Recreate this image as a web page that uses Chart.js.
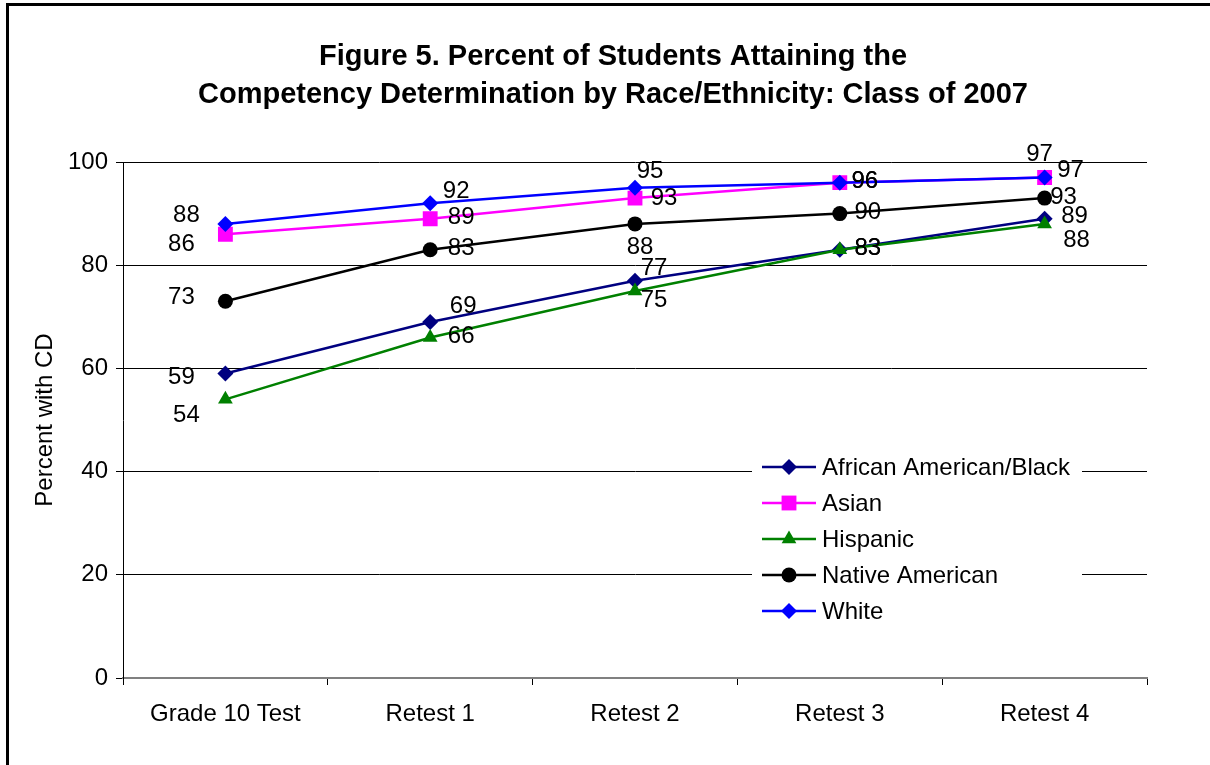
<!DOCTYPE html>
<html>
<head>
<meta charset="utf-8">
<script src="https://cdn.jsdelivr.net/npm/chart.js@4/dist/chart.umd.min.js"></script>
<style>
  html, body { margin: 0; padding: 0; background: #fff; }
  #wrap { position: relative; width: 1210px; height: 765px; }
  #frame { position: absolute; left: 6px; top: 3px; width: 1220px; height: 800px;
           border-left: 3px solid #000; border-top: 3px solid #000; pointer-events: none; }
</style>
</head>
<body>
<div id="wrap">
  <canvas id="cdChart" width="1210" height="765"></canvas>
  <div id="frame"></div>
</div>
<script>
// categories and series values (percent with CD)
const categories = ['Grade 10 Test', 'Retest 1', 'Retest 2', 'Retest 3', 'Retest 4'];
const africanAmerican = [59, 69, 77, 83, 89];
const asian = [86, 89, 93, 96, 97];
const hispanic = [54, 66, 75, 83, 88];
const nativeAmerican = [73, 83, 88, 90, 93];
const white = [88, 92, 95, 96, 97];
const yTicks = [0, 20, 40, 60, 80, 100];
const titleLines = ['Figure 5. Percent of Students Attaining the',
                    'Competency Determination by Race/Ethnicity: Class of 2007'];

// where each value label sits relative to its point (dx, dy)
const labelOffsets = [
    [[-44, 4], [33, -16], [19, -12], [28, -1], [30, -2]],
    [[-44, 10], [31, -1], [29, 0], [25, -1], [-5, -23]],
    [[-39, 16], [31, -1], [19, 9], [28, -1], [32, 16]],
    [[-44, -4], [31, -1], [5, 23], [28, -1], [19, -1]],
    [[-39, -9], [26, -12], [15, -16], [25, -1], [26, -7]]
];

const FONT = 'Arial, "Liberation Sans", sans-serif';

function series(label, data, color, style, radius, order) {
    return {
        label: label,
        data: data,
        borderColor: color,
        backgroundColor: color,
        borderWidth: 2.5,
        pointStyle: style,
        pointRadius: radius,
        pointHoverRadius: radius,
        pointBorderWidth: 0,
        pointBackgroundColor: color,
        tension: 0,
        order: order
    };
}

// two-line bold title, centred a bit right of the canvas middle like the original
const chartTitle = {
    id: 'chartTitle',
    afterDraw(chart) {
        const ctx = chart.ctx;
        ctx.save();
        ctx.font = 'bold 29px ' + FONT;
        ctx.fillStyle = '#000';
        ctx.textAlign = 'center';
        ctx.textBaseline = 'middle';
        titleLines.forEach(function(line, i) {
            ctx.fillText(line, 613, 57 + i * 38);
        });
        ctx.restore();
    }
};

// value labels next to the markers
const valueLabels = {
    id: 'valueLabels',
    afterDatasetsDraw(chart) {
        const ctx = chart.ctx;
        ctx.save();
        ctx.font = '24px ' + FONT;
        ctx.fillStyle = '#000';
        ctx.textAlign = 'center';
        ctx.textBaseline = 'middle';
        chart.data.datasets.forEach(function(ds, i) {
            const meta = chart.getDatasetMeta(i);
            meta.data.forEach(function(pt, j) {
                const off = labelOffsets[i][j];
                ctx.fillText(String(ds.data[j]), pt.x + off[0], pt.y + off[1]);
            });
        });
        ctx.restore();
    }
};

// legend box inside the plot area
const insideLegend = {
    id: 'insideLegend',
    afterDatasetsDraw(chart) {
        const ctx = chart.ctx;
        const left = 752, top = 449, rowH = 36;
        ctx.save();
        ctx.fillStyle = '#fff';
        ctx.fillRect(left, top, 330, 180);
        ctx.font = '24px ' + FONT;
        ctx.textBaseline = 'middle';
        ctx.textAlign = 'left';
        chart.data.datasets.forEach(function(ds, i) {
            const y = top + 18 + i * rowH;
            ctx.strokeStyle = ds.borderColor;
            ctx.lineWidth = 2.5;
            ctx.beginPath();
            ctx.moveTo(left + 10, y);
            ctx.lineTo(left + 64, y);
            ctx.stroke();
            ctx.fillStyle = ds.backgroundColor;
            Chart.helpers.drawPoint(ctx, {
                pointStyle: ds.pointStyle, radius: ds.pointRadius, rotation: 0, borderWidth: 0
            }, left + 37, y);
            ctx.fillStyle = '#000';
            ctx.fillText(ds.label, left + 70, y + 1);
        });
        ctx.restore();
    }
};

const chart = new Chart(document.getElementById('cdChart').getContext('2d'), {
    type: 'line',
    data: {
        labels: categories,
        datasets: [
            series('African American/Black', africanAmerican, '#000080', 'rectRot', 8, 5),
            series('Asian', asian, '#FF00FF', 'rect', 10.5, 4),
            series('Hispanic', hispanic, '#008000', 'triangle', 8.5, 3),
            series('Native American', nativeAmerican, '#000000', 'circle', 7.5, 2),
            series('White', white, '#0000FF', 'rectRot', 8, 1)
        ]
    },
    options: {
        responsive: false,
        animation: false,
        devicePixelRatio: 1,
        layout: { padding: { left: 16, right: 63, top: 162, bottom: 0 } },
        plugins: {
            legend: { display: false },
            tooltip: { enabled: false },
            title: { display: false }
        },
        scales: {
            x: {
                offset: true,
                grid: { offset: true, drawOnChartArea: false, drawTicks: true, tickLength: 7, tickColor: '#000' },
                border: { color: '#808080', width: 2 },
                ticks: { color: '#000', font: { family: FONT, size: 24 }, padding: 15, maxRotation: 0 },
                afterFit: function(scale) { scale.height = 87; }
            },
            y: {
                min: 0,
                max: 100,
                afterBuildTicks: function(scale) { scale.ticks = yTicks.map(v => ({ value: v })); },
                grid: {
                    color: ctx => (ctx.tick && ctx.tick.value === 0) ? 'rgba(0,0,0,0)' : '#000',
                    tickColor: '#000',
                    tickLength: 7,
                    lineWidth: 1
                },
                border: { color: '#000', width: 1 },
                ticks: { color: '#000', font: { family: FONT, size: 24 }, padding: 8 },
                title: {
                    display: true,
                    text: 'Percent with CD',
                    color: '#000',
                    font: { family: FONT, size: 24 },
                    padding: { top: 15, bottom: 0 }
                },
                afterFit: function(scale) { scale.width = 107; }
            }
        }
    },
    plugins: [insideLegend, valueLabels, chartTitle]
});
</script>
</body>
</html>
